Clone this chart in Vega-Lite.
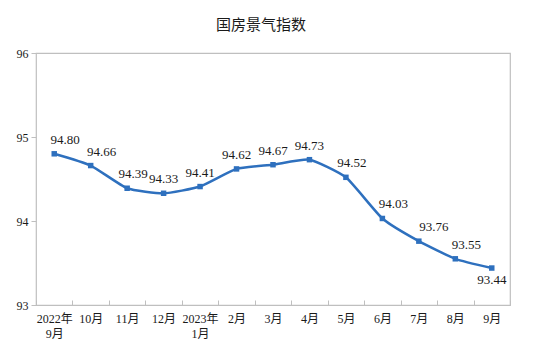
{
  "$schema": "https://vega.github.io/schema/vega-lite/v6.json",
  "autosize": {"type": "none"},
  "width": 474,
  "height": 252,
  "padding": {"left": 36, "top": 53, "right": 46, "bottom": 55},
  "background": "white",
  "title": {
    "text": "国房景气指数",
    "font": "Noto Sans CJK SC",
    "fontSize": 15,
    "fontWeight": "normal",
    "color": "#1a1a1a",
    "anchor": "middle",
    "dx": -12,
    "offset": 14
  },
  "config": {
    "view": {"stroke": "#BFBFBF", "strokeWidth": 1.2},
    "axis": {
      "labelFont": "Liberation Serif, Noto Sans CJK SC",
      "labelFontSize": 12,
      "labelColor": "#1a1a1a",
      "tickColor": "#BFBFBF",
      "domain": false,
      "grid": false
    }
  },
  "data": {
    "values": [
      {"m": "2022年|9月", "v": 94.80, "g": "r"},
      {"m": "10月", "v": 94.66, "g": "r"},
      {"m": "11月", "v": 94.39, "g": "s"},
      {"m": "12月", "v": 94.33, "g": "c"},
      {"m": "2023年|1月", "v": 94.41, "g": "c"},
      {"m": "2月", "v": 94.62, "g": "c"},
      {"m": "3月", "v": 94.67, "g": "c"},
      {"m": "4月", "v": 94.73, "g": "c"},
      {"m": "5月", "v": 94.52, "g": "s"},
      {"m": "6月", "v": 94.03, "g": "r"},
      {"m": "7月", "v": 93.76, "g": "r2"},
      {"m": "8月", "v": 93.55, "g": "r"},
      {"m": "9月", "v": 93.44, "g": "b"}
    ]
  },
  "encoding": {
    "x": {
      "field": "m",
      "type": "nominal",
      "sort": null,
      "scale": {"type": "band", "paddingInner": 0, "paddingOuter": 0},
      "axis": {
        "title": null,
        "labelAngle": 0,
        "labelExpr": "datum.value ? split(datum.value, '|') : ''",
        "labelLineHeight": 15,
        "tickBand": "extent",
        "tickSize": -5,
        "labelPadding": 13,
        "labelBaseline": "top"
      }
    },
    "y": {
      "field": "v",
      "type": "quantitative",
      "scale": {"domain": [93, 96], "zero": false, "nice": false},
      "axis": {
        "title": null,
        "values": [93, 94, 95, 96],
        "tickSize": 5,
        "labelPadding": 3,
        "format": "d"
      }
    }
  },
  "layer": [
    {
      "mark": {"type": "line", "color": "#2E70BE", "strokeWidth": 2.5, "interpolate": "cardinal", "tension": 0.5}
    },
    {
      "mark": {"type": "point", "shape": "square", "filled": true, "size": 30, "color": "#2E70BE", "opacity": 1}
    },
    {
      "transform": [{"filter": "datum.g == 'r'"}],
      "mark": {"type": "text", "font": "Liberation Serif", "fontSize": 13, "color": "#1a1a1a", "dx": 11, "dy": -14},
      "encoding": {"text": {"field": "v", "type": "quantitative", "format": ".2f"}}
    },
    {
      "transform": [{"filter": "datum.g == 'r2'"}],
      "mark": {"type": "text", "font": "Liberation Serif", "fontSize": 13, "color": "#1a1a1a", "dx": 15, "dy": -14},
      "encoding": {"text": {"field": "v", "type": "quantitative", "format": ".2f"}}
    },
    {
      "transform": [{"filter": "datum.g == 's'"}],
      "mark": {"type": "text", "font": "Liberation Serif", "fontSize": 13, "color": "#1a1a1a", "dx": 6, "dy": -14},
      "encoding": {"text": {"field": "v", "type": "quantitative", "format": ".2f"}}
    },
    {
      "transform": [{"filter": "datum.g == 'c'"}],
      "mark": {"type": "text", "font": "Liberation Serif", "fontSize": 13, "color": "#1a1a1a", "dx": 0, "dy": -14},
      "encoding": {"text": {"field": "v", "type": "quantitative", "format": ".2f"}}
    },
    {
      "transform": [{"filter": "datum.g == 'b'"}],
      "mark": {"type": "text", "font": "Liberation Serif", "fontSize": 13, "color": "#1a1a1a", "dx": 0, "dy": 12},
      "encoding": {"text": {"field": "v", "type": "quantitative", "format": ".2f"}}
    }
  ]
}
